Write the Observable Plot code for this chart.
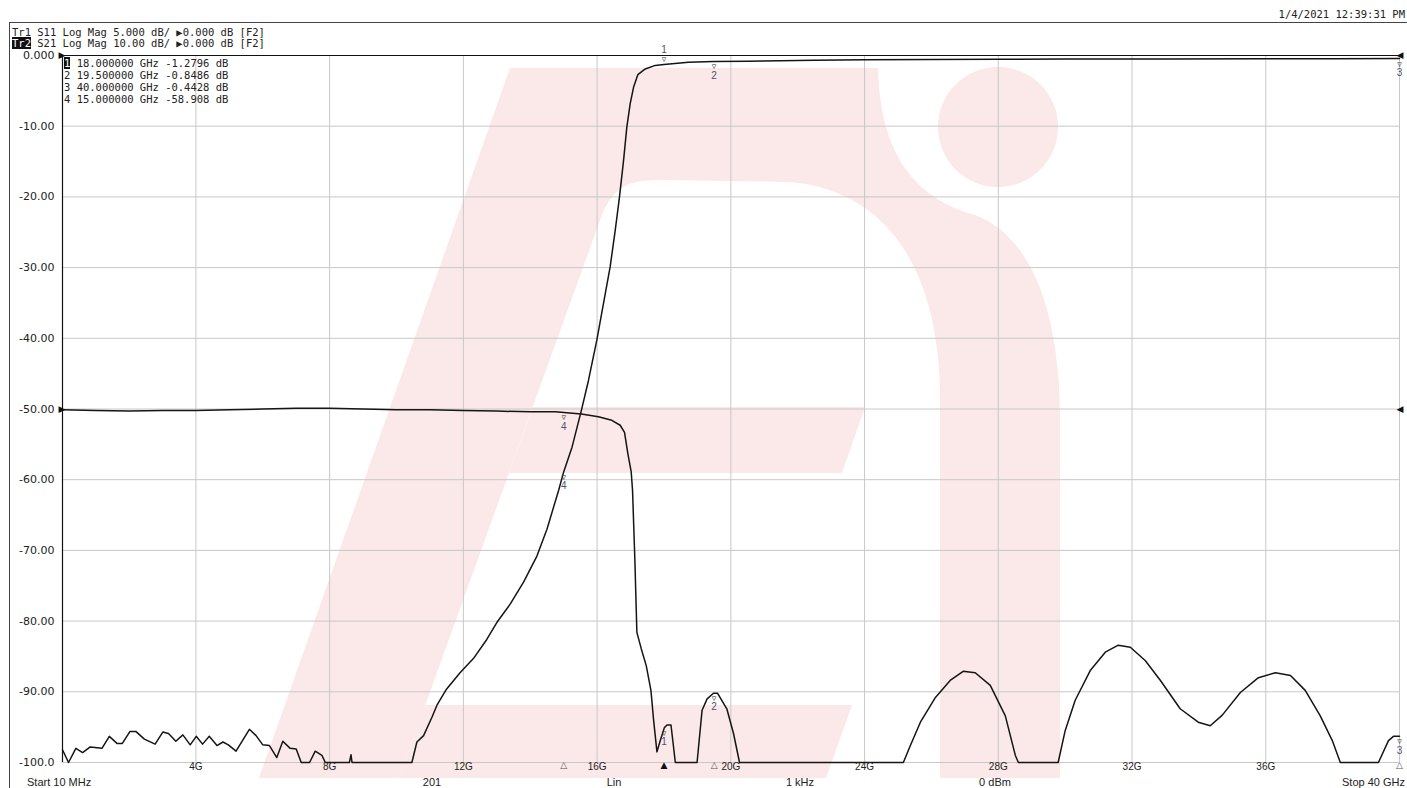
<!DOCTYPE html>
<html>
<head>
<meta charset="utf-8">
<script src="https://cdn.jsdelivr.net/npm/d3@7"></script>
<script src="https://cdn.jsdelivr.net/npm/@observablehq/plot@0.6"></script>
<style>
html, body { margin: 0; padding: 0; background: #fff; }
#wrap { position: relative; width: 1407px; height: 788px; overflow: hidden; background: #fff; }
#wm { position: absolute; left: 0; top: 0; }
#chart { position: absolute; left: 0; top: 0; }
.mono { position: absolute; font-family: "DejaVu Sans Mono", monospace; font-size: 10.5px; line-height: 11px; color: #222; white-space: pre; }
.inv { background: #111; color: #fff; }
.status { position: absolute; top: 775px; font-family: "Liberation Sans", sans-serif; font-size: 11px; line-height: 14px; color: #222; white-space: pre; }
.hline { position: absolute; background: #444; }
</style>
</head>
<body>
<div id="wrap">
  <!-- decorative watermark behind the chart -->
  <svg id="wm" width="1407" height="788" xmlns="http://www.w3.org/2000/svg">
    <path fill="#fbe8e8" d="M259,778 L510,68 L878,68 C880,160 920,200 975,215 C1040,240 1060,330 1060,420 L1060,778 Z"/>
    <path fill="#ffffff" d="M603,212 C615,186 630,180 660,180 L790,182 C880,190 940,260 940,400 L940,778 L399,778 Z"/>
    <g fill="#fbe8e8">
      <path d="M533,407 L865,407 L842,473 L509,473 Z"/>
      <path d="M425,705 L852,705 L826,778 L399,778 Z"/>
      <circle cx="998" cy="127" r="60"/>
    </g>
  </svg>
  <div id="chart"></div>
</div>
<script>
// ---------------- data ----------------
// S21 trace (GHz, dB as read on the displayed scale)
const s21Freq = [0.01,0.19,0.41,0.61,0.84,1.19,1.41,1.64,1.80,2.03,2.20,2.46,2.78,3.01,3.18,3.40,3.61,3.83,4.01,4.20,4.40,4.63,4.81,4.97,5.20,5.60,5.80,6.00,6.20,6.42,6.60,6.82,7.00,7.15,7.40,7.57,7.77,7.87,8.59,8.64,8.67,10.46,10.61,10.81,11.06,11.21,11.5,11.9,12.3,12.7,13.0,13.4,13.8,14.2,14.5,14.85,15.00,15.25,15.53,15.74,15.99,16.19,16.39,16.54,16.67,16.79,16.89,16.99,17.09,17.22,17.44,17.74,18.00,18.73,19.23,19.5,20.5,21.5,22.5,24,26,28,30,33,36,38,40];
const s21Db   = [-98.2,-100,-98.0,-98.6,-97.8,-98.0,-96.3,-97.3,-97.3,-95.6,-95.6,-96.7,-97.4,-95.7,-95.9,-97.0,-96.1,-97.5,-96.3,-97.4,-96.3,-97.6,-97.1,-97.5,-98.4,-95.3,-96.2,-97.5,-97.6,-99.3,-97.0,-98.0,-98.1,-100,-100,-98.4,-99.0,-100,-100,-98.9,-100,-100,-97.1,-96.2,-93.6,-91.9,-89.6,-87.3,-85.3,-82.6,-80.2,-77.6,-74.5,-70.8,-67.0,-61.5,-58.9,-55.4,-50.2,-46.0,-40.3,-35.1,-29.9,-24.8,-20.0,-14.9,-10.1,-6.8,-4.5,-2.7,-1.9,-1.4,-1.28,-0.95,-0.87,-0.85,-0.8,-0.75,-0.66,-0.6,-0.56,-0.54,-0.5,-0.49,-0.47,-0.45,-0.44];

// S11 trace (GHz, position read on the displayed scale)
const s11Freq = [0.01,1,2,3,4,5,6,7,8,9,10,11,12,13,14,14.75,15.53,16.04,16.44,16.69,16.82,16.92,17.02,17.06,17.13,17.19,17.32,17.47,17.61,17.69,17.79,17.89,18.01,18.09,18.21,18.34,18.99,19.14,19.29,19.48,19.60,19.88,20.08,20.26,25.16,25.37,25.67,26.12,26.56,26.95,27.31,27.76,28.21,28.51,28.60,29.79,30.00,30.30,30.75,31.20,31.59,31.95,32.40,32.85,33.44,33.98,34.34,34.70,35.24,35.78,36.29,36.74,37.18,37.63,37.99,38.23,39.37,39.67,39.82,40.00];
const s11Db   = [-50.1,-50.2,-50.3,-50.2,-50.2,-50.1,-50.0,-49.9,-49.9,-50.0,-50.1,-50.1,-50.2,-50.3,-50.4,-50.4,-50.7,-51.1,-51.6,-52.3,-53.3,-56.3,-58.9,-61.5,-71.4,-81.6,-83.9,-86.3,-89.8,-94.0,-98.5,-96.9,-95.1,-94.7,-94.7,-100,-100,-92.6,-91.0,-90.2,-90.2,-92.4,-95.9,-100,-100,-97.6,-94.3,-90.8,-88.4,-87.1,-87.3,-89.1,-93.4,-99.0,-100,-100,-95.5,-91.2,-87.0,-84.4,-83.4,-83.7,-85.6,-88.4,-92.4,-94.3,-94.8,-93.3,-90.1,-88.0,-87.3,-87.7,-89.8,-93.4,-96.9,-100,-100,-96.9,-96.3,-96.3];

// markers
const markerIds = ["1", "2", "3", "4"];
const markerFreqs = [18, 19.5, 40, 15];
const markerS21Db = [-1.2796, -0.8486, -0.4428, -58.908];
const markerS11Db = [-95.1, -90.2, -96.3, -50.5];
const markerReadout = ["18.000000 GHz -1.2796 dB", "19.500000 GHz -0.8486 dB", "40.000000 GHz -0.4428 dB", "15.000000 GHz -58.908 dB"];
const activeMarker = "1";

// axes
const xTicks = [4, 8, 12, 16, 20, 24, 28, 32, 36];
const xTickLabels = ["4G", "8G", "12G", "16G", "20G", "24G", "28G", "32G", "36G"];
const xGridExtra = [40];
const yTicks = [0, -10, -20, -30, -40, -50, -60, -70, -80, -90, -100];
const yTickLabels = ["0.000", "-10.00", "-20.00", "-30.00", "-40.00", "-50.00", "-60.00", "-70.00", "-80.00", "-90.00", "-100.0"];
const refLevels = [0, -50];

// texts
const traceHeaders = [["Tr1", "S11 Log Mag 5.000 dB/ \u25B60.000 dB [F2]"], ["Tr2", "S21 Log Mag 10.00 dB/ \u25B60.000 dB [F2]"]];
const activeTrace = "Tr2";
const timestamp = "1/4/2021 12:39:31 PM";
const statusLabels = ["Start 10 MHz", "201", "Lin", "1 kHz", "0 dBm", "Stop 40 GHz"];

// ---------------- build ----------------
const s21 = s21Freq.map((f, i) => ({f, db: s21Db[i]}));
const s11 = s11Freq.map((f, i) => ({f, db: s11Db[i]}));
const markers = markerIds.map((id, i) => ({id, f: markerFreqs[i], s21: markerS21Db[i], s11: markerS11Db[i]}));
const markersAbove = markers.filter(m => m.id === activeMarker);
const markersBelow = markers.filter(m => m.id !== activeMarker);
const lineColor = "#151515";
const labelColor = "#4a5478";

const chart = Plot.plot({
  width: 1407,
  height: 788,
  marginLeft: 62,
  marginRight: 8,
  marginTop: 55,
  marginBottom: 26,
  x: {domain: [0.01, 40], axis: null},
  y: {domain: [-100, 0], axis: null},
  style: {background: "transparent", fontFamily: "Liberation Sans, sans-serif", fontSize: "10px", color: "#222", overflow: "visible"},
  marks: [
    Plot.ruleX(xTicks.concat(xGridExtra), {stroke: "#c8c8c8", strokeWidth: 1}),
    Plot.ruleY(yTicks.filter(v => v !== 0), {stroke: "#c8c8c8", strokeWidth: 1}),
    Plot.ruleY([0], {stroke: "#111", strokeWidth: 1.2}),
    Plot.ruleX([0.01], {stroke: "#111", strokeWidth: 1.2}),
    Plot.line(s11, {x: "f", y: "db", stroke: lineColor, strokeWidth: 1.5}),
    Plot.line(s21, {x: "f", y: "db", stroke: lineColor, strokeWidth: 1.5}),
    // y tick labels
    Plot.text(yTicks, {frameAnchor: "left", y: d => d, text: (d, i) => yTickLabels[i], textAnchor: "end", dx: -8, fontSize: 11, fontFamily: "DejaVu Sans", fill: "#222"}),
    // x tick labels
    Plot.text(xTicks, {x: d => d, frameAnchor: "bottom", dy: 7, text: (d, i) => xTickLabels[i], fontSize: 10, fill: "#222"}),
    // reference position arrows
    Plot.text(refLevels, {frameAnchor: "left", y: d => d, text: () => "\u25B6", dx: -4, fontSize: 9, fill: "#111", fontFamily: "DejaVu Sans"}),
    Plot.text(refLevels, {frameAnchor: "right", y: d => d, text: () => "\u25C0", dx: 4, fontSize: 9, fill: "#111", fontFamily: "DejaVu Sans"}),
    // marker stimulus arrows under the axis
    Plot.text(markers, {x: "f", frameAnchor: "bottom", dy: 5, text: m => m.id === activeMarker ? "\u25B2" : "\u25B3", fontSize: 9, fill: m => m.id === activeMarker ? "#111" : "#555", fontFamily: "DejaVu Sans"}),
    // S21 markers
    Plot.text(markersAbove, {x: "f", y: "s21", text: () => "\u25BF", dy: -5, fontSize: 9, fill: "#333", fontFamily: "DejaVu Sans"}),
    Plot.text(markersAbove, {x: "f", y: "s21", text: "id", dy: -15, fontSize: 10, fill: labelColor}),
    Plot.text(markersBelow, {x: "f", y: "s21", text: () => "\u25BF", dy: 5, fontSize: 9, fill: "#333", fontFamily: "DejaVu Sans"}),
    Plot.text(markersBelow, {x: "f", y: "s21", text: "id", dy: 14, fontSize: 10, fill: labelColor}),
    // S11 markers
    Plot.text(markers, {x: "f", y: "s11", text: () => "\u25BF", dy: 5, fontSize: 9, fill: "#333", fontFamily: "DejaVu Sans"}),
    Plot.text(markers, {x: "f", y: "s11", text: "id", dy: 14, fontSize: 10, fill: labelColor})
  ]
});
document.getElementById("chart").appendChild(chart);

// ---------------- overlay text ----------------
const wrap = document.getElementById("wrap");
function add(cls, css, html) {
  const d = document.createElement("div");
  d.className = cls;
  d.style.cssText = css;
  d.innerHTML = html;
  wrap.appendChild(d);
  return d;
}
// frame lines of the instrument screen
add("hline", "left:9px;top:22px;width:1398px;height:1px;", "");
add("hline", "left:9px;top:22px;width:1px;height:766px;", "");
// timestamp (right-aligned inside the window)
add("mono", "right:2px;top:9px;", timestamp);
// trace header
traceHeaders.forEach((h, i) => {
  const tag = h[0] === activeTrace ? `<span class="inv">${h[0]}</span>` : h[0];
  add("mono", `left:12px;top:${27 + i * 10.5}px;`, `${tag} ${h[1]}`);
});
// marker table
markerIds.forEach((id, i) => {
  const tag = id === activeMarker ? `<span class="inv">${id}</span>` : id;
  add("mono", `left:64px;top:${58 + i * 12}px;`, `${tag} ${markerReadout[i]}`);
});
// status bar
const statusPos = [[27, "left"], [432, "center"], [614, "center"], [800, "center"], [995, "center"], [2, "right"]];
statusLabels.forEach((s, i) => {
  const [x, a] = statusPos[i];
  const d = add("status", a === "right" ? `right:${x}px;` : `left:${x}px;`, s);
  if (a === "center") d.style.transform = "translateX(-50%)";
});
</script>
</body>
</html>
